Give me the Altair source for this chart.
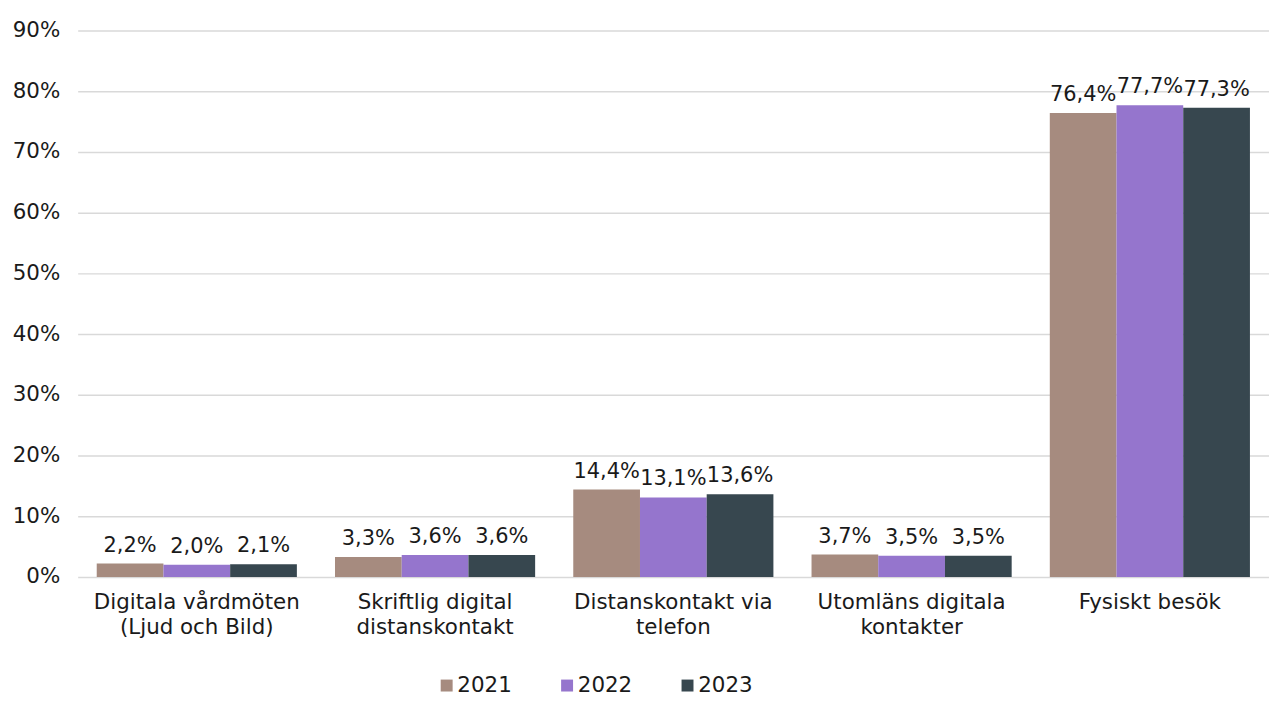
import altair as alt
import pandas as pd

categories = [
    "Digitala vårdmöten|(Ljud och Bild)",
    "Skriftlig digital|distanskontakt",
    "Distanskontakt via|telefon",
    "Utomläns digitala|kontakter",
    "Fysiskt besök",
]
years = ["2021", "2022", "2023"]
v2021 = [0.022, 0.033, 0.144, 0.037, 0.764]
v2022 = [0.020, 0.036, 0.131, 0.035, 0.777]
v2023 = [0.021, 0.036, 0.136, 0.035, 0.773]
colors = ["#A68B7F", "#9575CD", "#37474F"]
y_ticks = [0, 0.1, 0.2, 0.3, 0.4, 0.5, 0.6, 0.7, 0.8, 0.9]

rows = []
for year, vals in zip(years, [v2021, v2022, v2023]):
    for cat, v in zip(categories, vals):
        rows.append({"category": cat, "year": year, "value": v})
df = pd.DataFrame(rows)

FONT = "DejaVu Sans"
TXT = "#1a1a1a"
FS = 21.5

x = alt.X(
    "category:N",
    sort=categories,
    scale=alt.Scale(paddingInner=0.16, paddingOuter=0.08),
    axis=alt.Axis(
        title=None,
        labelExpr="split(datum.label, '|')",
        labelAngle=0,
        labelFontSize=FS,
        labelLineHeight=25,
        labelPadding=15,
        labelLimit=400,
        labelColor=TXT,
        domain=False,
        ticks=False,
    ),
)
xo = alt.XOffset("year:N", sort=years, scale=alt.Scale(paddingInner=0, paddingOuter=0))
y = alt.Y(
    "value:Q",
    scale=alt.Scale(domain=[0, 0.9], nice=False),
    axis=alt.Axis(
        values=y_ticks,
        format=".0%",
        title=None,
        domain=False,
        ticks=False,
        labelPadding=18,
        labelFontSize=FS,
        labelColor=TXT,
        gridColor="#d9d9d9",
        gridWidth=1.5,
    ),
)
color = alt.Color(
    "year:N",
    scale=alt.Scale(domain=years, range=colors),
    legend=alt.Legend(
        title=None,
        orient="none",
        direction="horizontal",
        legendX=360,
        legendY=647,
        symbolType="square",
        symbolSize=144,
        symbolStrokeWidth=0,
        labelFontSize=FS,
        labelColor=TXT,
        labelOffset=0,
        columnPadding=44,
    ),
)

base = alt.Chart(df)
bars = base.mark_bar().encode(x=x, xOffset=xo, y=y, color=color)
labels = base.mark_text(
    dy=-12, baseline="alphabetic", fontSize=21, font=FONT, color=TXT
).encode(
    x=x,
    xOffset=xo,
    y=y,
    text=alt.Text("label:N"),
).transform_calculate(
    label="replace(format(datum.value, '.1%'), '.', ',')"
)

chart = (
    alt.layer(bars, labels)
    .properties(
        width=1197,
        height=549,
        autosize=alt.AutoSizeParams(type="none"),
        padding={"left": 70, "top": 21, "right": 0, "bottom": 119},
    )
    .configure(font=FONT)
    .configure_view(stroke=None)
)

chart.save("out.html", embed_options={"renderer": "svg", "actions": False})
